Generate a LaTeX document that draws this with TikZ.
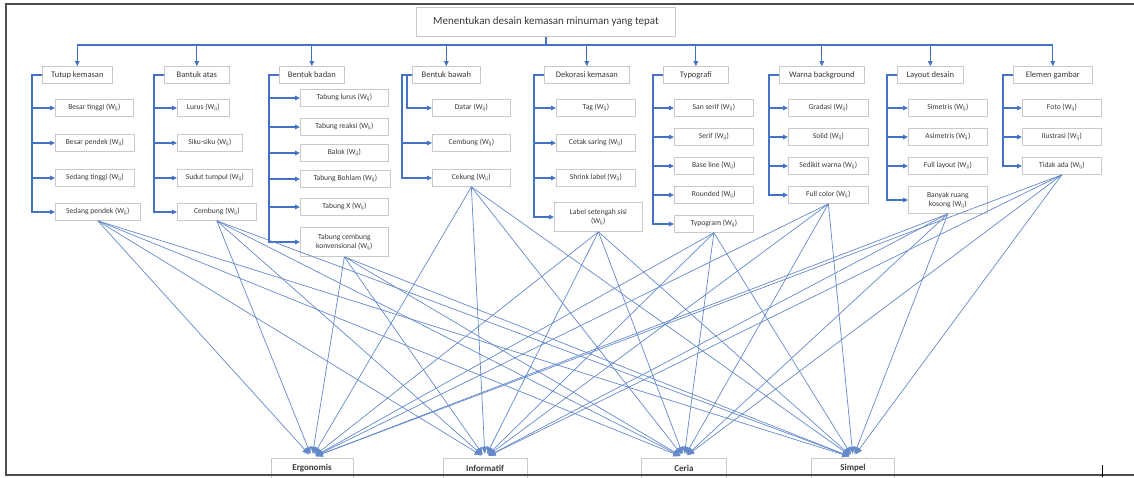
\documentclass[tikz,border=0pt]{standalone}
\usepackage{fontspec}
\setmainfont{Carlito}
\usepackage{xcolor}
\usepackage{tikz}
\usetikzlibrary{arrows.meta,positioning}
\definecolor{ink}{HTML}{3A3A3A}
\definecolor{edge}{HTML}{C9C9C9}
\definecolor{frame}{HTML}{4D4D4D}
\definecolor{cblue}{HTML}{4472C4}
\definecolor{clink}{HTML}{6389CA}
\newcommand{\wij}{(W\textsubscript{ij})}
\tikzset{
  every node/.style={text=ink},
  % one box style; leaves and categories only differ in font and width
  box/.style={draw=edge, fill=white, line width=0.7pt, inner sep=1pt, align=center,
              minimum height=17pt, font=\fontsize{7.6}{8.8}\selectfont},
  leaf/.style={box, anchor=west, minimum width=#1},
  cat/.style={box, anchor=west, minimum width=#1, font=\fontsize{8.5}{10}\selectfont},
  crit/.style={box, minimum width=#1, minimum height=20pt, font=\bfseries\fontsize{9}{10}\selectfont},
  tree/.style={-{Triangle[length=5pt,width=4.5pt]}, line width=1.1pt, color=cblue},
  link/.style={-{Triangle[length=7pt,width=6pt]}, line width=0.7pt, color=clink, shorten >=4pt},
}

\begin{document}
\begin{tikzpicture}[x=1pt,y=-1pt]
  \useasboundingbox (0,0) rectangle (1134,477);

  % goal and bus
  \node[box, minimum width=259pt, minimum height=29pt, font=\fontsize{11}{13}\selectfont]
    (root) at (546,22) {Menentukan desain kemasan minuman yang tepat};
  \coordinate (bus) at (0,45);

  % categories
  \node[cat=70pt] (tutup)  at (42,75)   {Tutup kemasan};
  \node[cat=65pt] (atas)   at (164,75)  {Bantuk atas};
  \node[cat=65pt] (badan)  at (279,75)  {Bentuk badan};
  \node[cat=68pt] (bawah)  at (412,75)  {Bentuk bawah};
  \node[cat=85pt] (dekor)  at (544,75)  {Dekorasi kemasan};
  \node[cat=65pt] (typo)   at (663,75)  {Typografi};
  \node[cat=85pt] (warna)  at (779,75)  {Warna background};
  \node[cat=66pt] (layout) at (897,75)  {Layout desain};
  \node[cat=79pt] (elemen) at (1013,75) {Elemen gambar};

  \draw[tree,-] (root.south) -- (root.south |- bus);
  \draw[tree,-] (tutup.north |- bus) -- (elemen.north |- bus);
  \foreach \c in {tutup,atas,badan,bawah,dekor,typo,warna,layout,elemen}
    \draw[tree] (\c.north |- bus) -- (\c.north);

  % alternatives
  \node[leaf=78pt] (tk1) at (55,108) {Besar tinggi \wij};
  \node[leaf=79pt] (tk2) at (55,143) {Besar pendek \wij};
  \node[leaf=79pt] (tk3) at (55,178) {Sedang tinggi \wij};
  \node[leaf=85pt] (tk4) at (55,212) {Sedang pendek \wij};

  \node[leaf=52pt] (ba1) at (177,108) {Lurus \wij};
  \node[leaf=65pt] (ba2) at (177,143) {Siku-siku \wij};
  \node[leaf=75pt] (ba3) at (177,178) {Sudut tumpul \wij};
  \node[leaf=79pt] (ba4) at (177,212) {Cembung \wij};

  \node[leaf=88pt] (bd1) at (300,98)  {Tabung lurus \wij};
  \node[leaf=88pt] (bd2) at (300,127) {Tabung reaksi \wij};
  \node[leaf=88pt] (bd3) at (300,153) {Balok \wij};
  \node[leaf=90pt] (bd4) at (300,179) {Tabung Bohlam \wij};
  \node[leaf=88pt] (bd5) at (300,207) {Tabung X \wij};
  \node[leaf=88pt, minimum height=29pt] (bd6) at (300,242) {Tabung cembung\\konvensional \wij};

  \node[leaf=78pt] (bw1) at (432,108) {Datar \wij};
  \node[leaf=78pt] (bw2) at (432,143) {Cembung \wij};
  \node[leaf=78pt] (bw3) at (432,178) {Cekung \wij};

  \node[leaf=79pt] (dk1) at (556,108) {Tag \wij};
  \node[leaf=79pt] (dk2) at (556,143) {Cetak saring \wij};
  \node[leaf=79pt] (dk3) at (556,178) {Shrink label \wij};
  \node[leaf=88pt, minimum height=29pt] (dk4) at (554,217) {Label setengah sisi\\\wij};

  \node[leaf=79pt] (ty1) at (674,108) {San serif \wij};
  \node[leaf=79pt] (ty2) at (674,137) {Serif \wij};
  \node[leaf=79pt] (ty3) at (674,166) {Base line \wij};
  \node[leaf=79pt] (ty4) at (674,195) {Rounded \wij};
  \node[leaf=79pt] (ty5) at (674,224) {Typogram \wij};

  \node[leaf=80pt] (wb1) at (788,108) {Gradasi \wij};
  \node[leaf=80pt] (wb2) at (788,137) {Solid \wij};
  \node[leaf=80pt] (wb3) at (788,166) {Sedikit warna \wij};
  \node[leaf=80pt] (wb4) at (788,195) {Full color \wij};

  \node[leaf=79pt] (ld1) at (908,108) {Simetris \wij};
  \node[leaf=79pt] (ld2) at (908,137) {Asimetris \wij};
  \node[leaf=79pt] (ld3) at (908,166) {Full layout \wij};
  \node[leaf=79pt, minimum height=27pt] (ld4) at (908,200) {Banyak ruang\\kosong \wij};

  \node[leaf=79pt] (eg1) at (1022,108) {Foto \wij};
  \node[leaf=79pt] (eg2) at (1022,137) {Ilustrasi \wij};
  \node[leaf=79pt] (eg3) at (1022,166) {Tidak ada \wij};

  % elbow connectors, category to its alternatives
  \foreach \n in {tk1,tk2,tk3,tk4} \draw[tree] (tutup.west) -- ++(-10,0) |- (\n.west);
  \foreach \n in {ba1,ba2,ba3,ba4} \draw[tree] (atas.west) -- ++(-10,0) |- (\n.west);
  \foreach \n in {bd1,bd2,bd3,bd4,bd5,bd6} \draw[tree] (badan.west) -- ++(-10,0) |- (\n.west);
  \draw[tree] (bawah.west) -- ++(-5,0) |- (bw1.west);
  \foreach \n in {bw2,bw3} \draw[tree] (bawah.west) -- ++(-10,0) |- (\n.west);
  \foreach \n in {dk1,dk2,dk3,dk4} \draw[tree] (dekor.west) -- ++(-10,0) |- (\n.west);
  \foreach \n in {ty1,ty2,ty3,ty4,ty5} \draw[tree] (typo.west) -- ++(-10,0) |- (\n.west);
  \foreach \n in {wb1,wb2,wb3,wb4} \draw[tree] (warna.west) -- ++(-10,0) |- (\n.west);
  \foreach \n in {ld1,ld2,ld3,ld4} \draw[tree] (layout.west) -- ++(-10,0) |- (\n.west);
  \foreach \n in {eg1,eg2,eg3} \draw[tree] (elemen.west) -- ++(-10,0) |- (\n.west);

  % criteria
  \node[crit=82pt] (ergo)   at (312,468) {Ergonomis};
  \node[crit=84pt] (info)   at (485,468) {Informatif};
  \node[crit=85pt] (ceria)  at (684,468) {Ceria};
  \node[crit=83pt] (simpel) at (853,468) {Simpel};

  % every last alternative feeds all four criteria
  \foreach \s in {tk4,ba4,bd6,bw3,dk4,ty5,wb4,ld4,eg3}
    \foreach \t in {ergo,info,ceria,simpel}
      \draw[link] (\s.south) -- (\t.north);

  % page frame
  \draw[frame, line width=1.2pt] (1134,4) -- (6,4) -- (6,475) -- (1134,475);
  \draw[black, line width=0.8pt] (1102,465) -- (1102,477);
\end{tikzpicture}
\end{document}
